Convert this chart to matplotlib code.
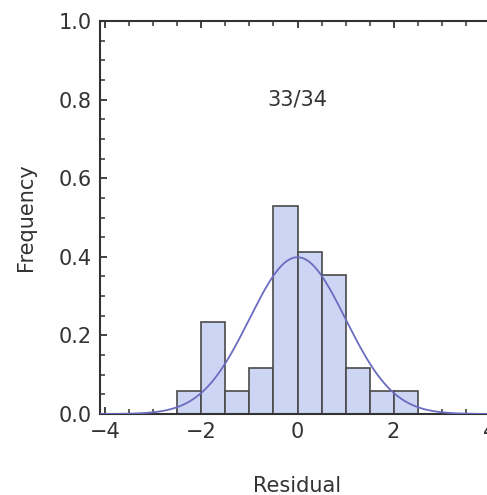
import numpy as np
import matplotlib.pyplot as plt
from matplotlib.ticker import MultipleLocator

# histogram of residuals (counts per bin, bin width 0.5)
bin_edges = [-2.5, -2.0, -1.5, -1.0, -0.5, 0.0, 0.5, 1.0, 1.5, 2.0, 2.5]
counts = [1, 4, 1, 2, 9, 7, 6, 2, 1, 1]
n_total = 34

# normal fit
mu = 0.0
sigma = 1.0

label_txt = "33/34"

gray = "#333333"

fig = plt.figure(figsize=(4.87, 4.95), dpi=100)
ax = fig.add_axes([100/487, 81/495, 395/487, 393/495])

edges = np.array(bin_edges)
widths = np.diff(edges)
dens = np.array(counts) / (n_total * widths)
ax.bar(edges[:-1], dens, width=widths, align="edge",
       color="#ccd5f4", edgecolor="#4a4a4a", linewidth=1.2, zorder=2)

x = np.linspace(-4.1, 4.1, 400)
y = np.exp(-0.5*((x-mu)/sigma)**2) / (sigma*np.sqrt(2*np.pi))
ax.plot(x, y, color="#6a6cc0", lw=1.3, zorder=3)

ax.text(0, 0.8, label_txt, ha="center", va="center", fontsize=15, color=gray)

ax.set_xlim(-4.11, 4.11)
ax.set_ylim(0, 1.0)
ax.set_xticks([-4, -2, 0, 2, 4])
ax.set_yticks([0.0, 0.2, 0.4, 0.6, 0.8, 1.0])
ax.set_yticklabels(["0.0", "0.2", "0.4", "0.6", "0.8", "1.0"])
ax.xaxis.set_minor_locator(MultipleLocator(0.5))
ax.yaxis.set_minor_locator(MultipleLocator(0.05))
ax.tick_params(which="both", direction="in", top=True, right=True,
               color=gray, labelsize=15, labelcolor=gray)
ax.tick_params(which="major", length=5, width=1.3, pad=6)
ax.tick_params(which="minor", length=3.5, width=1.1)
for s in ax.spines.values():
    s.set_color(gray)
    s.set_linewidth(1.5)

ax.set_xlabel("Residual", fontsize=15, color=gray, labelpad=24)
ax.set_ylabel("Frequency", fontsize=15, color=gray, labelpad=16)

fig.savefig("out.png", dpi=100)
